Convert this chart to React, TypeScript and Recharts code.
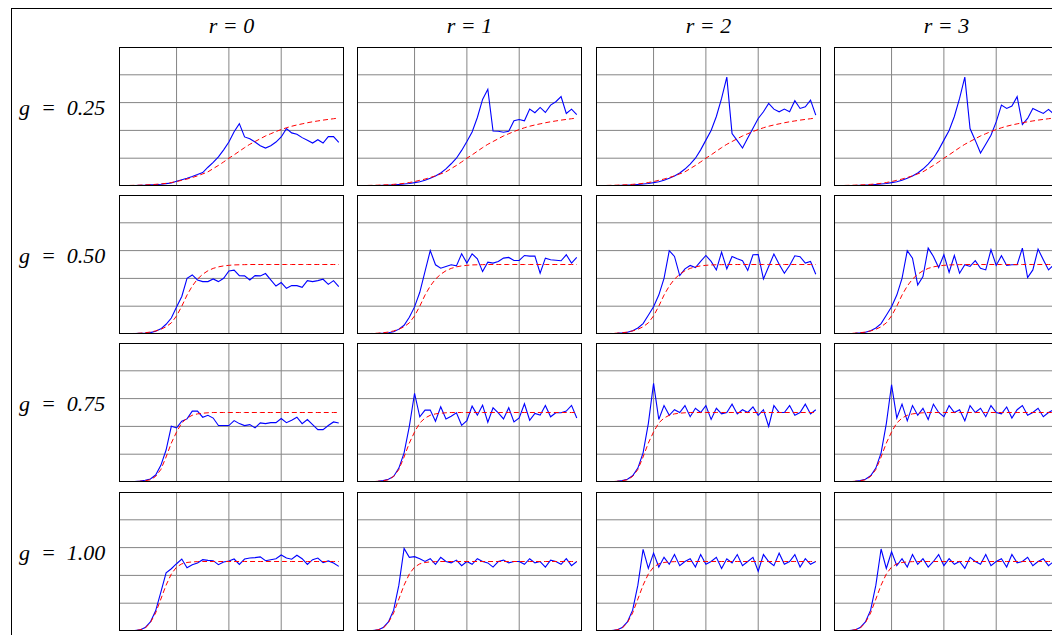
import { LineChart, Line, XAxis, YAxis, CartesianGrid } from 'recharts';

// time steps of the simulation
const STEPS = [
  1, 2, 3, 4, 5, 6, 7, 8, 9, 10, 11, 12, 13, 14, 15, 16, 17, 18, 19, 20, 21,
  22, 23, 24, 25, 26, 27, 28, 29, 30, 31, 32, 33, 34, 35, 36, 37, 38, 39, 40, 41,
];

const DELAYS = ['0', '1', '2', '3'];
const GROWTH = ['0.25', '0.50', '0.75', '1.00'];

// deterministic logistic curve, one per growth rate
const MODEL_G025 = [
  0.004, 0.005, 0.006, 0.008, 0.009, 0.012, 0.015, 0.019, 0.025, 0.032,
  0.041, 0.05, 0.061, 0.073, 0.087, 0.102, 0.125, 0.148, 0.173, 0.2,
  0.224, 0.25, 0.276, 0.3, 0.32, 0.34, 0.36, 0.376, 0.392, 0.406,
  0.419, 0.43, 0.439, 0.447, 0.455, 0.462, 0.468, 0.474, 0.479, 0.484, 0.489,
];
const MODEL_G050 = [
  0.003, 0.004, 0.006, 0.009, 0.014, 0.022, 0.034, 0.052, 0.08, 0.13,
  0.2, 0.28, 0.345, 0.395, 0.43, 0.455, 0.472, 0.483, 0.49, 0.494,
  0.497, 0.498, 0.499, 0.5, 0.5, 0.5, 0.5, 0.5, 0.5, 0.5,
  0.5, 0.5, 0.5, 0.5, 0.5, 0.5, 0.5, 0.5, 0.5, 0.5, 0.5,
];
const MODEL_G075 = [
  0.002, 0.003, 0.005, 0.009, 0.016, 0.04, 0.09, 0.18, 0.28, 0.36,
  0.425, 0.46, 0.48, 0.49, 0.495, 0.498, 0.5, 0.5, 0.5, 0.5,
  0.5, 0.5, 0.5, 0.5, 0.5, 0.5, 0.5, 0.5, 0.5, 0.5,
  0.5, 0.5, 0.5, 0.5, 0.5, 0.5, 0.5, 0.5, 0.5, 0.5, 0.5,
];
const MODEL_G100 = [
  0.002, 0.004, 0.008, 0.02, 0.06, 0.13, 0.23, 0.33, 0.41, 0.46,
  0.483, 0.493, 0.497, 0.499, 0.5, 0.5, 0.5, 0.5, 0.5, 0.5,
  0.5, 0.5, 0.5, 0.5, 0.5, 0.5, 0.5, 0.5, 0.5, 0.5,
  0.5, 0.5, 0.5, 0.5, 0.5, 0.5, 0.5, 0.5, 0.5, 0.5, 0.5,
];

// simulated runs, named by delay r and growth g
const SIM_R0_G025 = [
  0.003, 0.004, 0.005, 0.006, 0.008, 0.01, 0.013, 0.017, 0.022, 0.034,
  0.045, 0.056, 0.068, 0.082, 0.097, 0.135, 0.17, 0.21, 0.26, 0.316,
  0.39, 0.449, 0.353, 0.34, 0.316, 0.29, 0.273, 0.29, 0.316, 0.353,
  0.413, 0.382, 0.372, 0.348, 0.329, 0.309, 0.333, 0.309, 0.355, 0.355, 0.314,
];
const SIM_R1_G025 = [
  0.002, 0.003, 0.004, 0.005, 0.006, 0.008, 0.011, 0.014, 0.018, 0.024,
  0.031, 0.041, 0.056, 0.072, 0.094, 0.123, 0.16, 0.2, 0.256, 0.32,
  0.389, 0.493, 0.623, 0.696, 0.396, 0.394, 0.387, 0.394, 0.469, 0.478,
  0.469, 0.553, 0.527, 0.565, 0.529, 0.582, 0.606, 0.643, 0.522, 0.553, 0.514,
];
const SIM_R2_G025 = [
  0.002, 0.003, 0.004, 0.005, 0.006, 0.008, 0.011, 0.014, 0.018, 0.024,
  0.031, 0.041, 0.055, 0.072, 0.094, 0.122, 0.158, 0.2, 0.26, 0.33,
  0.4, 0.5, 0.63, 0.783, 0.377, 0.326, 0.273, 0.345, 0.415, 0.486,
  0.534, 0.594, 0.553, 0.534, 0.553, 0.534, 0.614, 0.558, 0.57, 0.618, 0.51,
];
const SIM_R3_G025 = [
  0.002, 0.003, 0.004, 0.005, 0.006, 0.008, 0.011, 0.014, 0.018, 0.024,
  0.031, 0.041, 0.055, 0.072, 0.094, 0.122, 0.158, 0.2, 0.26, 0.33,
  0.4, 0.5, 0.63, 0.783, 0.413, 0.328, 0.237, 0.3, 0.365, 0.461,
  0.582, 0.558, 0.575, 0.643, 0.442, 0.486, 0.558, 0.539, 0.522, 0.551, 0.517,
];
const SIM_R0_G050 = [
  0.002, 0.003, 0.005, 0.007, 0.01, 0.02, 0.037, 0.07, 0.115, 0.195,
  0.27, 0.401, 0.425, 0.389, 0.377, 0.377, 0.396, 0.377, 0.401, 0.454,
  0.459, 0.42, 0.418, 0.389, 0.42, 0.418, 0.435, 0.389, 0.345, 0.37,
  0.329, 0.348, 0.348, 0.336, 0.384, 0.377, 0.384, 0.394, 0.357, 0.384, 0.341,
];
const SIM_R1_G050 = [
  0.002, 0.003, 0.004, 0.006, 0.009, 0.016, 0.035, 0.063, 0.12, 0.195,
  0.3, 0.45, 0.6, 0.498, 0.473, 0.486, 0.498, 0.49, 0.577, 0.51,
  0.577, 0.541, 0.449, 0.517, 0.51, 0.522, 0.546, 0.551, 0.529, 0.529,
  0.565, 0.56, 0.56, 0.437, 0.546, 0.534, 0.531, 0.527, 0.57, 0.51, 0.551,
];
const SIM_R2_G050 = [
  0.002, 0.003, 0.005, 0.008, 0.013, 0.024, 0.043, 0.075, 0.135, 0.196,
  0.28, 0.4, 0.599, 0.558, 0.42, 0.469, 0.493, 0.478, 0.522, 0.565,
  0.522, 0.461, 0.589, 0.469, 0.558, 0.541, 0.527, 0.457, 0.57, 0.572,
  0.396, 0.486, 0.575, 0.502, 0.437, 0.493, 0.563, 0.556, 0.51, 0.522, 0.43,
];
const SIM_R3_G050 = [
  0.002, 0.003, 0.005, 0.008, 0.013, 0.024, 0.043, 0.075, 0.135, 0.196,
  0.28, 0.4, 0.599, 0.546, 0.353, 0.413, 0.618, 0.558, 0.478, 0.57,
  0.444, 0.565, 0.437, 0.498, 0.486, 0.527, 0.473, 0.461, 0.606, 0.493,
  0.563, 0.493, 0.498, 0.498, 0.618, 0.406, 0.461, 0.611, 0.534, 0.461, 0.498,
];
const SIM_R0_G075 = [
  0.002, 0.004, 0.007, 0.012, 0.022, 0.05, 0.12, 0.23, 0.401, 0.389,
  0.437, 0.454, 0.51, 0.51, 0.466, 0.48, 0.46, 0.406, 0.406, 0.406,
  0.442, 0.42, 0.406, 0.413, 0.389, 0.425, 0.42, 0.427, 0.427, 0.457,
  0.427, 0.444, 0.466, 0.42, 0.449, 0.413, 0.377, 0.377, 0.406, 0.432, 0.425,
];
const SIM_R1_G075 = [
  0.002, 0.003, 0.005, 0.01, 0.02, 0.04, 0.1, 0.21, 0.4, 0.638,
  0.469, 0.517, 0.517, 0.437, 0.541, 0.454, 0.473, 0.498, 0.408, 0.442,
  0.546, 0.481, 0.553, 0.43, 0.534, 0.498, 0.454, 0.534, 0.432, 0.461,
  0.563, 0.444, 0.493, 0.481, 0.551, 0.469, 0.498, 0.498, 0.51, 0.551, 0.461,
];
const SIM_R2_G075 = [
  0.002, 0.003, 0.005, 0.01, 0.02, 0.045, 0.1, 0.21, 0.42, 0.71,
  0.45, 0.55, 0.48, 0.52, 0.5, 0.55, 0.47, 0.53, 0.5, 0.55,
  0.45, 0.53, 0.49, 0.5, 0.56, 0.49, 0.52, 0.5, 0.54, 0.48,
  0.52, 0.4, 0.55, 0.5, 0.5, 0.55, 0.48, 0.5, 0.56, 0.49, 0.52,
];
const SIM_R3_G075 = [
  0.002, 0.003, 0.005, 0.01, 0.02, 0.045, 0.1, 0.21, 0.42, 0.7,
  0.46, 0.56, 0.44, 0.55, 0.48, 0.53, 0.45, 0.56, 0.5, 0.47,
  0.55, 0.5, 0.52, 0.44, 0.55, 0.5, 0.53, 0.47, 0.55, 0.5,
  0.49, 0.54, 0.46, 0.52, 0.55, 0.48, 0.5, 0.53, 0.47, 0.5, 0.52,
];
const SIM_R0_G100 = [
  0.002, 0.004, 0.008, 0.025, 0.065, 0.145, 0.28, 0.419, 0.448, 0.484,
  0.518, 0.455, 0.477, 0.489, 0.513, 0.508, 0.506, 0.477, 0.496, 0.504,
  0.518, 0.479, 0.518, 0.525, 0.528, 0.533, 0.506, 0.513, 0.52, 0.547,
  0.525, 0.516, 0.545, 0.52, 0.479, 0.513, 0.525, 0.492, 0.504, 0.489, 0.465,
];
const SIM_R1_G100 = [
  0.002, 0.004, 0.008, 0.025, 0.065, 0.15, 0.33, 0.594, 0.53, 0.535,
  0.52, 0.5, 0.52, 0.48, 0.53, 0.5, 0.49, 0.51, 0.47, 0.5,
  0.48, 0.52, 0.5, 0.49, 0.46, 0.5, 0.51, 0.49, 0.5, 0.5,
  0.48, 0.52, 0.49, 0.5, 0.46, 0.51, 0.5, 0.48, 0.52, 0.47, 0.5,
];
const SIM_R2_G100 = [
  0.002, 0.004, 0.008, 0.025, 0.065, 0.15, 0.33, 0.587, 0.45, 0.56,
  0.46, 0.53, 0.48, 0.55, 0.47, 0.5, 0.52, 0.46, 0.55, 0.48,
  0.5, 0.53, 0.45, 0.52, 0.49, 0.55, 0.47, 0.5, 0.53, 0.43,
  0.55, 0.5, 0.47, 0.56, 0.48, 0.5, 0.55, 0.46, 0.52, 0.48, 0.5,
];
const SIM_R3_G100 = [
  0.002, 0.004, 0.008, 0.025, 0.065, 0.15, 0.33, 0.59, 0.45, 0.57,
  0.47, 0.52, 0.46, 0.55, 0.48, 0.52, 0.46, 0.5, 0.55, 0.47,
  0.52, 0.48, 0.5, 0.45, 0.53, 0.5, 0.48, 0.55, 0.47, 0.5,
  0.52, 0.46, 0.55, 0.49, 0.5, 0.53, 0.47, 0.5, 0.52, 0.47, 0.5,
];

const MODEL_BY_ROW = [MODEL_G025, MODEL_G050, MODEL_G075, MODEL_G100];
const SIM_BY_ROW = [
  [SIM_R0_G025, SIM_R1_G025, SIM_R2_G025, SIM_R3_G025],
  [SIM_R0_G050, SIM_R1_G050, SIM_R2_G050, SIM_R3_G050],
  [SIM_R0_G075, SIM_R1_G075, SIM_R2_G075, SIM_R3_G075],
  [SIM_R0_G100, SIM_R1_G100, SIM_R2_G100, SIM_R3_G100],
];

// panel layout
const PANEL_W = 225;
const PANEL_H = 139;
const COL_X = [119, 357, 596, 834];
const ROW_Y = [47, 195, 343, 492];

const FONT = '"Liberation Serif", "Times New Roman", serif';

function Panel({ sim, model }: { sim: number[]; model: number[] }) {
  const data = STEPS.map((t, k) => ({ t, sim: sim[k], model: model[k] }));
  return (
    <LineChart
      width={PANEL_W}
      height={PANEL_H}
      data={data}
      margin={{ top: 0, right: 0, bottom: 0, left: 0 }}
    >
      <CartesianGrid stroke="#858585" strokeWidth={1} />
      <XAxis dataKey="t" type="number" domain={[-1, 42]} ticks={[10, 20, 30]} hide />
      <YAxis type="number" domain={[0, 1]} ticks={[0.2, 0.4, 0.6, 0.8]} hide />
      <Line
        dataKey="sim"
        stroke="#0000ff"
        strokeWidth={1.1}
        dot={false}
        isAnimationActive={false}
      />
      <Line
        dataKey="model"
        stroke="#ff0000"
        strokeWidth={1}
        strokeDasharray="5 3"
        dot={false}
        isAnimationActive={false}
      />
    </LineChart>
  );
}

export default function App() {
  return (
    <div
      style={{
        position: 'absolute',
        left: 0,
        top: 0,
        width: 1052,
        height: 635,
        overflow: 'hidden',
        background: '#fff',
        fontFamily: FONT,
      }}
    >
      <div
        style={{
          position: 'absolute',
          left: 11,
          top: 8,
          width: 1200,
          height: 800,
          border: '1px solid #000',
        }}
      />
      {DELAYS.map((r, c) => (
        <div
          key={'r' + r}
          style={{
            position: 'absolute',
            left: COL_X[c],
            top: 13,
            width: PANEL_W,
            textAlign: 'center',
            fontStyle: 'italic',
            fontSize: 22,
            lineHeight: '26px',
            whiteSpace: 'pre',
          }}
        >
          {'r = ' + r}
        </div>
      ))}
      {GROWTH.map((g, rIdx) => (
        <div
          key={'g' + g}
          style={{
            position: 'absolute',
            left: 19,
            top: ROW_Y[rIdx] + 48,
            fontStyle: 'italic',
            fontSize: 22,
            lineHeight: '26px',
            whiteSpace: 'pre',
          }}
        >
          {'g  =  ' + g}
        </div>
      ))}
      {SIM_BY_ROW.map((row, rIdx) =>
        row.map((sim, c) => (
          <div
            key={rIdx + '-' + c}
            style={{
              position: 'absolute',
              left: COL_X[c],
              top: ROW_Y[rIdx],
              width: PANEL_W,
              height: PANEL_H,
            }}
          >
            <Panel sim={sim} model={MODEL_BY_ROW[rIdx]} />
            <div
              style={{
                position: 'absolute',
                left: 0,
                top: 0,
                width: PANEL_W,
                height: PANEL_H,
                boxSizing: 'border-box',
                border: '1px solid #000',
                pointerEvents: 'none',
              }}
            />
          </div>
        ))
      )}
    </div>
  );
}
